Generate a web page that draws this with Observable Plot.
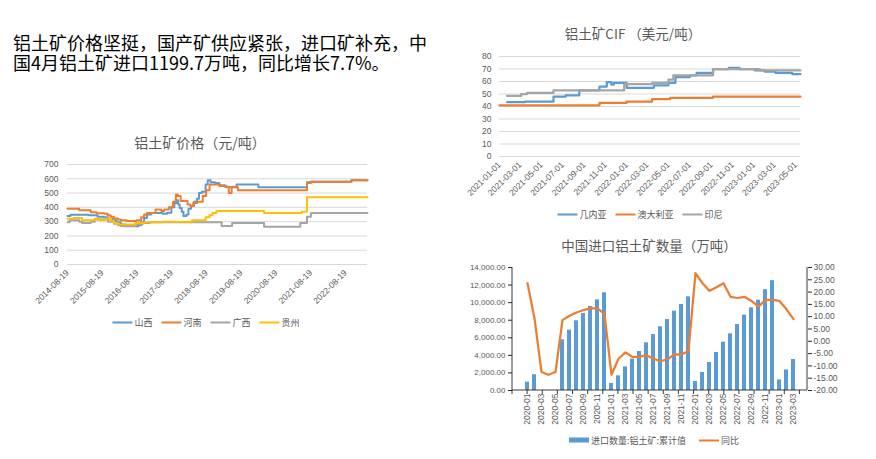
<!DOCTYPE html>
<html><head><meta charset="utf-8">
<script src="https://cdn.jsdelivr.net/npm/d3@7"></script>
<script src="https://cdn.jsdelivr.net/npm/@observablehq/plot@0.6"></script>
<style>
body{margin:0;background:#fff;}
#wrap{position:relative;width:876px;height:459px;overflow:hidden;background:#fff;font-family:"Liberation Sans","Noto Sans CJK SC",sans-serif;}
.ctitle{position:absolute;transform:translate(-50%,-50%);color:#595959;white-space:nowrap;font-family:"Noto Sans CJK SC",sans-serif;line-height:1;}
.legend{position:absolute;transform:translate(-50%,-50%);display:flex;align-items:center;font-size:9px;color:#595959;white-space:nowrap;font-family:"Noto Sans CJK SC",sans-serif;line-height:1;}
.item{display:flex;align-items:center;}
.sw{display:inline-block;width:20px;height:2px;margin-right:2px;}
.head{position:absolute;left:13px;font-size:18px;line-height:18px;height:18px;color:#000;font-family:"Noto Sans CJK SC",sans-serif;white-space:nowrap;}
svg{position:absolute;}
</style></head>
<body><div id="wrap">
<div class="head" style="top:33px;">铝土矿价格坚挺，国产矿供应紧张，进口矿补充，中</div>
<div class="head" style="top:53px;">国4月铝土矿进口1199.7万吨，同比增长7.7%。</div>
</div>
<script>
// ---------- Chart 1: 铝土矿价格（元/吨） ----------
const priceTitle = "铝土矿价格（元/吨）";
const priceNames = ["山西", "河南", "广西", "贵州"];
const priceColors = ["#5B9BD5", "#ED7D31", "#A5A5A5", "#FFC000"];
const priceXTicks = ["2014-08-19","2015-08-19","2016-08-19","2017-08-19","2018-08-19","2019-08-19","2020-08-19","2021-08-19","2022-08-19"];
const priceYTicks = [0,100,200,300,400,500,600,700];
const priceShanxi = [["2014-08-19",340],["2014-09-20",348],["2015-04-01",345],["2015-07-01",335],["2015-09-01",330],["2015-10-15",320],["2015-12-01",310],["2016-01-15",295],["2016-03-01",280],["2016-04-15",268],["2016-09-01",275],["2016-10-01",295],["2016-11-01",325],["2016-12-01",350],["2017-01-15",360],["2017-05-15",355],["2017-07-01",362],["2017-08-15",400],["2017-09-15",430],["2017-10-10",450],["2017-10-25",420],["2017-11-10",395],["2017-12-01",370],["2017-12-20",340],["2018-01-20",350],["2018-02-10",390],["2018-03-10",410],["2018-04-10",440],["2018-05-10",460],["2018-06-01",500],["2018-07-01",510],["2018-08-10",560],["2018-09-01",590],["2018-10-01",575],["2018-11-15",570],["2019-01-01",555],["2019-03-01",545],["2019-04-15",540],["2019-07-01",560],["2020-02-15",540],["2021-07-10",575],["2021-08-15",580],["2022-10-20",590],["2023-04-07",590]];
const priceHenan = [["2014-08-19",390],["2014-12-20",380],["2015-04-20",365],["2015-06-20",358],["2015-09-15",355],["2015-10-15",345],["2015-11-15",335],["2015-12-20",322],["2016-02-01",315],["2016-03-01",310],["2016-05-01",305],["2016-08-15",310],["2016-10-01",330],["2016-11-01",350],["2016-12-01",360],["2017-03-01",385],["2017-05-01",375],["2017-06-01",385],["2017-07-20",400],["2017-09-01",440],["2017-10-01",490],["2017-10-20",480],["2017-11-20",445],["2018-02-01",420],["2018-03-01",410],["2018-04-01",430],["2018-05-15",440],["2018-07-10",480],["2018-08-15",520],["2018-09-20",560],["2019-01-01",550],["2019-03-15",540],["2019-04-10",500],["2019-05-10",545],["2019-06-10",540],["2019-07-15",520],["2021-07-10",570],["2021-08-20",580],["2022-10-20",590],["2023-04-07",590]];
const priceGuangxi = [["2014-08-19",295],["2014-09-10",310],["2014-12-20",300],["2015-01-20",290],["2015-04-20",300],["2015-06-01",315],["2015-10-20",300],["2015-12-20",285],["2016-02-01",275],["2016-03-01",270],["2016-08-01",280],["2016-10-15",290],["2017-01-01",295],["2019-01-25",270],["2019-05-15",290],["2020-04-15",265],["2021-05-01",290],["2021-07-10",335],["2021-08-20",360],["2023-04-07",360]];
const priceGuizhou = [["2014-08-19",320],["2014-10-20",325],["2015-01-20",310],["2015-06-01",320],["2015-08-01",310],["2015-09-15",320],["2015-11-20",305],["2015-12-20",290],["2016-02-01",280],["2016-08-01",290],["2016-11-01",295],["2017-05-15",300],["2018-03-01",295],["2018-03-20",310],["2018-08-10",330],["2018-09-20",345],["2018-10-20",360],["2018-12-01",375],["2020-04-15",360],["2021-05-15",370],["2021-07-10",470],["2023-04-07",470]];

// ---------- Chart 2: 铝土矿CIF （美元/吨） ----------
const cifTitle = "铝土矿CIF （美元/吨）";
const cifNames = ["几内亚", "澳大利亚", "印尼"];
const cifColors = ["#5B9BD5", "#ED7D31", "#A5A5A5"];
const cifXTicks = ["2021-01-01","2021-03-01","2021-05-01","2021-07-01","2021-09-01","2021-11-01","2022-01-01","2022-03-01","2022-05-01","2022-07-01","2022-09-01","2022-11-01","2023-01-01","2023-03-01","2023-05-01"];
const cifYTicks = [0,10,20,30,40,50,60,70,80];
const cifGuinea = [["2021-01-23",43.5],["2021-03-15",44],["2021-06-05",48],["2021-07-10",49],["2021-08-18",53],["2021-10-15",56],["2021-11-05",59.5],["2021-11-18",57.5],["2021-11-25",59],["2022-01-01",55],["2022-03-20",57],["2022-05-01",59],["2022-05-21",63.5],["2022-07-01",65],["2022-07-21",67],["2022-09-06",70],["2022-10-21",71],["2022-11-21",70],["2023-01-04",69],["2023-02-01",68],["2023-03-04",67],["2023-04-21",66],["2023-05-15",66]];
const cifAustralia = [["2021-01-01",41],["2021-10-15",43],["2022-01-01",44],["2022-03-15",46],["2022-05-06",47],["2022-09-06",48],["2023-05-15",48]];
const cifIndonesia = [["2021-01-23",48.5],["2021-03-04",50],["2021-03-21",51],["2021-06-05",53],["2021-12-25",58],["2022-03-15",59],["2022-05-01",61.5],["2022-05-15",65],["2022-09-06",70],["2023-01-18",69],["2023-05-15",69]];

// ---------- Chart 3: 中国进口铝土矿数量（万吨） ----------
const importTitle = "中国进口铝土矿数量（万吨）";
const importBarName = "进口数量:铝土矿:累计值";
const importLineName = "同比";
const importMonths = ["2020-01","2020-02","2020-03","2020-04","2020-05","2020-06","2020-07","2020-08","2020-09","2020-10","2020-11","2020-12","2021-01","2021-02","2021-03","2021-04","2021-05","2021-06","2021-07","2021-08","2021-09","2021-10","2021-11","2021-12","2022-01","2022-02","2022-03","2022-04","2022-05","2022-06","2022-07","2022-08","2022-09","2022-10","2022-11","2022-12","2023-01","2023-02","2023-03"];
const importCum = [950,1800,null,null,null,5770,6870,7930,8760,9560,10320,11120,800,1670,2690,3570,4440,5430,6370,7250,8080,9030,9790,10660,1020,2050,3190,4330,5500,6450,7510,8580,9410,10280,11480,12500,1200,2340,3530];
const importYoy = [23.6,9.3,-12.5,-13.6,-12.5,8.6,10.4,11.7,12.7,13.5,13.4,11.1,-13.6,-7.1,-4.5,-6.4,-6.2,-5.7,-7.1,-8.1,-7.3,-5.3,-5.4,-3.9,27.7,23.6,20.5,22.0,23.6,18.1,17.6,18.1,16.4,14.1,16.8,16.8,16.4,13.0,9.0];
const importLeftTicks = [0,2000,4000,6000,8000,10000,12000,14000];
const importRightTicks = [-20,-15,-10,-5,0,5,10,15,20,25,30];

// ---------- helpers ----------
const wrap = document.getElementById("wrap");
const parse = d3.utcParse("%Y-%m-%d");
const fmtDay = d3.utcFormat("%Y-%m-%d");
function rowsOf(names, arrays) {
  return names.flatMap((n, i) => arrays[i].map(([d, v]) => ({series: n, date: parse(d), value: v})));
}
function place(svg, left, top) {
  svg.style.left = left + "px";
  svg.style.top = top + "px";
  wrap.appendChild(svg);
}
function addTitle(text, cx, cy, size) {
  const d = document.createElement("div");
  d.className = "ctitle";
  d.style.left = cx + "px"; d.style.top = cy + "px"; d.style.fontSize = size + "px";
  d.textContent = text;
  wrap.appendChild(d);
}
function addLegend(items, cx, cy, gap) {
  const d = document.createElement("div");
  d.className = "legend";
  d.style.left = cx + "px"; d.style.top = cy + "px"; d.style.gap = gap + "px";
  for (const it of items) {
    const e = document.createElement("span"); e.className = "item";
    const s = document.createElement("span"); s.className = "sw";
    s.style.background = it.color;
    if (it.rect) { s.style.height = "5px"; }
    const t = document.createElement("span"); t.textContent = it.name;
    e.appendChild(s); e.appendChild(t); d.appendChild(e);
  }
  wrap.appendChild(d);
}
const baseStyle = {background: "transparent", overflow: "visible", fontFamily: "'Liberation Sans','Noto Sans CJK SC',sans-serif", fontSize: "8.5px", color: "#595959"};

// ---------- Chart 1 ----------
const priceRows = rowsOf(priceNames, [priceShanxi, priceHenan, priceGuangxi, priceGuizhou]);
const c1 = Plot.plot({
  width: 380, height: 180,
  marginLeft: 67, marginRight: 13, marginTop: 14, marginBottom: 66,
  style: baseStyle,
  x: {type: "utc", domain: [parse("2014-08-19"), parse("2023-04-07")], label: null},
  y: {domain: [0, 700], label: null},
  color: {domain: priceNames, range: priceColors},
  marks: [
    Plot.gridY(priceYTicks, {stroke: "#D9D9D9", strokeOpacity: 1}),
    Plot.axisY(priceYTicks, {tickSize: 0, tickPadding: 9, label: null, fill: "#595959"}),
    Plot.axisX(priceXTicks.map(parse), {tickSize: 0, tickPadding: 7, tickRotate: -45, tickFormat: fmtDay, label: null, fill: "#595959"}),
    Plot.line(priceRows, {x: "date", y: "value", z: "series", stroke: "series", curve: "step-after", strokeWidth: 2})
  ]
});
place(c1, 0, 150);
addTitle(priceTitle, 200, 142, 14);
addLegend(priceNames.map((n, i) => ({name: n, color: priceColors[i]})), 206, 322, 9);

// ---------- Chart 2 ----------
const cifRows = rowsOf(cifNames, [cifGuinea, cifAustralia, cifIndonesia]);
const c2 = Plot.plot({
  width: 370, height: 170,
  marginLeft: 59, marginRight: 10, marginTop: 10, marginBottom: 60,
  style: baseStyle,
  x: {type: "utc", domain: [parse("2021-01-01"), parse("2023-05-15")], label: null},
  y: {domain: [0, 80], label: null},
  color: {domain: cifNames, range: cifColors},
  marks: [
    Plot.gridY(cifYTicks, {stroke: "#D9D9D9", strokeOpacity: 1}),
    Plot.axisY(cifYTicks, {tickSize: 0, tickPadding: 8, label: null, fill: "#595959"}),
    Plot.axisX(cifXTicks.map(parse), {tickSize: 0, tickPadding: 7, tickRotate: -45, tickFormat: fmtDay, label: null, fill: "#595959"}),
    Plot.line(cifRows, {x: "date", y: "value", z: "series", stroke: "series", curve: "step-after", strokeWidth: 2.25})
  ]
});
place(c2, 440, 46);
addTitle(cifTitle, 633, 34, 13.5);
addLegend(cifNames.map((n, i) => ({name: n, color: cifColors[i]})), 640, 214, 9);

// ---------- Chart 3 ----------
const leftMax = 14000, rMin = -20, rMax = 30;
const toLeft = v => (v - rMin) / (rMax - rMin) * leftMax;
const fromLeft = v => v / leftMax * (rMax - rMin) + rMin;
const importRows = importMonths.map((m, i) => ({month: m, cum: importCum[i], yoy: importYoy[i]}));
const axisLines = (index, scales, values, dims) => {
  const l = dims.marginLeft, r = dims.width - dims.marginRight, t = dims.marginTop, b = dims.height - dims.marginBottom;
  const g = d3.create("svg:g").attr("stroke", "#262626").attr("stroke-width", 0.9).attr("fill", "none");
  g.append("line").attr("x1", l).attr("x2", l).attr("y1", t).attr("y2", b);
  g.append("line").attr("x1", r).attr("x2", r).attr("y1", t).attr("y2", b);
  g.append("line").attr("x1", l).attr("x2", r).attr("y1", b).attr("y2", b);
  const n = importMonths.length, step = (r - l) / n;
  for (let i = 0; i <= n; i += 2) g.append("line").attr("x1", l + i * step).attr("x2", l + i * step).attr("y1", b).attr("y2", b + 4);
  return g.node();
};
const c3 = Plot.plot({
  width: 421, height: 180,
  marginLeft: 57, marginRight: 69, marginTop: 10, marginBottom: 47,
  style: baseStyle,
  x: {type: "band", domain: importMonths, paddingInner: 0.5, paddingOuter: 0.25, label: null},
  y: {domain: [0, leftMax], label: null},
  marks: [
    Plot.barY(importRows.filter(d => d.cum != null), {x: "month", y: "cum", fill: "#5B9BD5"}),
    Plot.line(importRows, {x: "month", y: d => toLeft(d.yoy), stroke: "#ED7D31", strokeWidth: 2.25}),
    Plot.axisY(importLeftTicks, {anchor: "left", tickSize: 4, tickPadding: 3, tickFormat: d3.format(",.2f"), label: null, fill: "#595959", stroke: "#262626", fontSize: 8}),
    Plot.axisY(importRightTicks.map(toLeft), {anchor: "right", tickSize: 4, tickPadding: 2, tickFormat: d => fromLeft(d).toFixed(2), label: null, fill: "#595959", stroke: "#262626", fontSize: 8.5}),
    Plot.axisX(importMonths.filter((_, i) => i % 2 === 0), {tickSize: 0, tickPadding: 3, tickRotate: -90, label: null, fill: "#595959"}),
    axisLines
  ]
});
place(c3, 455, 257);
addTitle(importTitle, 649, 246, 13.5);
addLegend([{name: importBarName, color: "#5B9BD5", rect: true}, {name: importLineName, color: "#ED7D31"}], 654, 440, 13);
</script>
</body></html>
